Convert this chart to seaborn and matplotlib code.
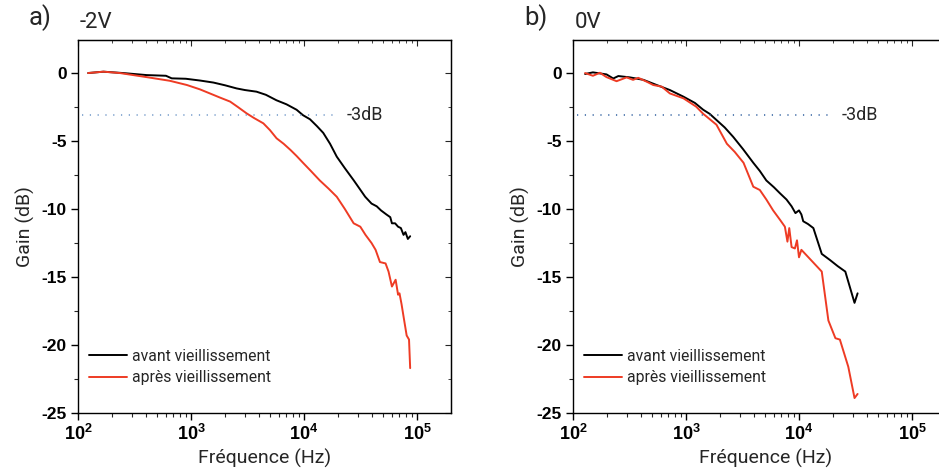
import numpy as np
import pandas as pd
import matplotlib
matplotlib.use("Agg")
import matplotlib.pyplot as plt
import seaborn as sns
from matplotlib.ticker import FixedLocator, FixedFormatter, LogLocator, MultipleLocator, NullFormatter

# ---------------- data ----------------
series_names = ["avant vieillissement", "après vieillissement"]

# panel a) -2V
a_avant_f = [123, 168, 250, 405, 600, 675, 900, 1200, 1580, 2000, 2530, 3000, 3800, 4600, 5700,
             7000, 8600, 9800, 11300, 13000, 14800, 17000, 19500, 23000, 27600, 31000, 34800,
             39600, 44000, 48000, 53600, 58000, 60000, 64000, 68000, 72000, 76000, 79000, 83000, 87000]
a_avant_g = [0.0, 0.1, 0.0, -0.15, -0.2, -0.39, -0.42, -0.55, -0.7, -0.9, -1.13, -1.25, -1.37, -1.6, -2.0,
             -2.3, -2.7, -3.1, -3.4, -3.9, -4.4, -5.2, -6.15, -7.0, -7.9, -8.5, -9.1,
             -9.6, -9.8, -10.1, -10.4, -10.6, -11.05, -11.05, -11.3, -11.4, -11.9, -11.7, -12.2, -12.0]

a_apres_f = [123, 168, 235, 405, 650, 920, 1200, 1470, 1800, 2220, 2600, 3100, 3600, 4370, 5000, 5720,
             6600, 7600, 8600, 9800, 11500, 13800, 16500, 19500, 23000, 27500, 31500, 35000, 39600,
             43000, 47000, 52700, 56000, 60000, 64700, 68000, 70000, 73000, 76000, 81000, 85000, 87000]
a_apres_g = [0.0, 0.1, 0.0, -0.3, -0.57, -0.88, -1.2, -1.5, -1.8, -2.1, -2.5, -2.96, -3.3, -3.7, -4.2, -4.8,
             -5.2, -5.66, -6.1, -6.6, -7.2, -7.9, -8.5, -9.1, -10.0, -11.05, -11.3, -11.9, -12.5,
             -13.0, -13.9, -14.0, -14.6, -15.7, -15.2, -16.3, -16.2, -17.0, -17.9, -19.3, -19.6, -21.7]

# panel b) 0V
b_avant_f = [128, 150, 198, 227, 252, 319, 420, 550, 720, 950, 1200, 1420, 1620, 1865, 2200, 2620, 3200,
             3940, 4500, 5140, 6000, 6800, 7750, 8600, 9300, 10000, 10500, 10900, 12000, 13400,
             15900, 18800, 22000, 25700, 31000, 33000]
b_avant_g = [-0.07, 0.05, -0.1, -0.4, -0.22, -0.32, -0.5, -0.88, -1.25, -1.74, -2.2, -2.7, -3.0, -3.46, -4.0, -4.7, -5.6,
             -6.6, -7.2, -7.9, -8.4, -8.85, -9.3, -9.8, -10.3, -10.1, -10.4, -10.9, -11.1, -11.4,
             -13.3, -13.75, -14.2, -14.6, -16.9, -16.2]

b_apres_f = [128, 150, 173, 198, 243, 298, 340, 378, 450, 513, 610, 720, 950, 1230, 1420, 1520, 1860,
             2300, 2700, 3230, 3940, 4500, 5140, 5900, 6800, 7500, 7900, 8200, 8600, 9200, 9600,
             10000, 10500, 15900, 18200, 21000, 23000, 27300, 31000, 33000]
b_apres_g = [0.0, -0.2, 0.02, -0.3, -0.6, -0.32, -0.5, -0.35, -0.64, -0.88, -1.0, -1.5, -1.86, -2.47, -3.0, -3.2, -3.8,
             -5.2, -5.8, -6.6, -8.36, -8.6, -9.3, -10.1, -10.8, -11.3, -12.4, -11.4, -12.8, -12.9, -12.3,
             -13.55, -13.0, -14.6, -18.2, -19.5, -19.6, -21.6, -23.9, -23.6]

panel_letters = ["a)", "b)"]
panel_titles = ["-2V", "0V"]
x_tick_values = [1e2, 1e3, 1e4, 1e5]
x_tick_labels = [r"$\mathbf{10^{2}}$", r"$\mathbf{10^{3}}$", r"$\mathbf{10^{4}}$", r"$\mathbf{10^{5}}$"]
y_tick_values = [-25, -20, -15, -10, -5, 0]
y_tick_labels = ["-25", "-20", "-15", "-10", "-5", "0"]
db3_level = -3.1
db3_label = "-3dB"

# ---------------- style ----------------
sns.set_style("ticks")
plt.rcParams["font.family"] = ["Roboto", "DejaVu Sans"]
plt.rcParams["mathtext.fontset"] = "custom"
plt.rcParams["mathtext.rm"] = "Liberation Sans"
plt.rcParams["mathtext.bf"] = "Liberation Sans:bold"
plt.rcParams["mathtext.it"] = "Liberation Sans:italic"

colors = {series_names[0]: "#000000", series_names[1]: "#ee3b24"}
db3_colors = ["#6f97c8", "#2f5f9f"]

fig = plt.figure(figsize=(9.39, 4.75), dpi=100)
W, H = 939, 475
PX_DEC = 113.0
axes_px = [(78, 40, 373, 373), (573, 40, 385, 373)]

panels = [
    ((a_avant_f, a_avant_g), (a_apres_f, a_apres_g)),
    ((b_avant_f, b_avant_g), (b_apres_f, b_apres_g)),
]

for i, (ax_px, pdata) in enumerate(zip(axes_px, panels)):
    x0, y0, w, h = ax_px
    ax = fig.add_axes([x0 / W, 1 - (y0 + h) / H, w / W, h / H])
    frames = []
    for name, (f, g) in zip(series_names, pdata):
        frames.append(pd.DataFrame({"f": f, "g": g, "serie": name}))
    df = pd.concat(frames, ignore_index=True)
    sns.lineplot(data=df, x="f", y="g", hue="serie", palette=colors, estimator=None,
                 sort=False, linewidth=1.4, ax=ax)
    ax.set_xscale("log")
    ax.set_xlim(1e2, 10 ** (2 + w / PX_DEC))
    ax.set_ylim(-25, 2.43)

    # -3dB dotted reference
    ax.plot([108, 18300], [db3_level, db3_level], linestyle=(0, (0.8, 4.3)),
            color=db3_colors[i], linewidth=1.1)
    ax.text(24000, db3_level, db3_label, fontsize=13, va="center", ha="left")

    ax.xaxis.set_major_locator(FixedLocator(x_tick_values))
    ax.xaxis.set_major_formatter(FixedFormatter(x_tick_labels))
    ax.xaxis.set_minor_locator(LogLocator(base=10, subs=np.arange(2, 10)))
    ax.xaxis.set_minor_formatter(NullFormatter())
    ax.yaxis.set_major_locator(FixedLocator(y_tick_values))
    ax.yaxis.set_major_formatter(FixedFormatter(y_tick_labels))
    ax.yaxis.set_minor_locator(MultipleLocator(2.5))
    ax.tick_params(axis="both", which="major", direction="out", length=5, width=1,
                   labelsize=12, colors="black")
    ax.tick_params(axis="both", which="minor", direction="out", length=3, width=0.8)
    ax.tick_params(axis="x", which="major", pad=3)
    ax.tick_params(axis="y", which="major", pad=3)
    for lab in ax.get_yticklabels():
        lab.set_fontweight("bold")
        lab.set_family(["Liberation Sans", "DejaVu Sans"])
        lab.set_fontsize(12.5)
    for lab in ax.get_xticklabels():
        lab.set_fontsize(13)

    # inward ticks on top / right
    secx = ax.secondary_xaxis("top")
    secx.xaxis.set_major_locator(FixedLocator(x_tick_values))
    secx.xaxis.set_minor_locator(LogLocator(base=10, subs=np.arange(2, 10)))
    secx.tick_params(which="major", direction="in", length=4, labeltop=False)
    secx.tick_params(which="minor", direction="in", length=2, labeltop=False)
    secx.xaxis.set_major_formatter(NullFormatter())
    secx.xaxis.set_minor_formatter(NullFormatter())
    secy = ax.secondary_yaxis("right")
    secy.yaxis.set_major_locator(FixedLocator(y_tick_values))
    secy.yaxis.set_minor_locator(MultipleLocator(2.5))
    secy.tick_params(which="major", direction="in", length=4, labelright=False)
    secy.tick_params(which="minor", direction="in", length=2, labelright=False)
    secy.yaxis.set_major_formatter(NullFormatter())

    for sp in ax.spines.values():
        sp.set_visible(True)
        sp.set_linewidth(1.0)
        sp.set_color("black")

    ax.set_xlabel("Fréquence (Hz)", fontsize=14, labelpad=3)
    ax.set_ylabel("Gain (dB)", fontsize=14, labelpad=5)

    ax.legend(loc="upper left", bbox_to_anchor=(0.0, 0.202), frameon=False,
              fontsize=11.3, handlelength=2.4, handletextpad=0.35, labelspacing=0.42,
              borderaxespad=0.3)

    fig.text((x0 - 49) / W, 1 - 18 / H, panel_letters[i], fontsize=18.5, va="center", ha="left")
    fig.text((x0 + 2) / W, 1 - 22 / H, panel_titles[i], fontsize=16, va="center", ha="left")

fig.savefig("out.png", dpi=100)
